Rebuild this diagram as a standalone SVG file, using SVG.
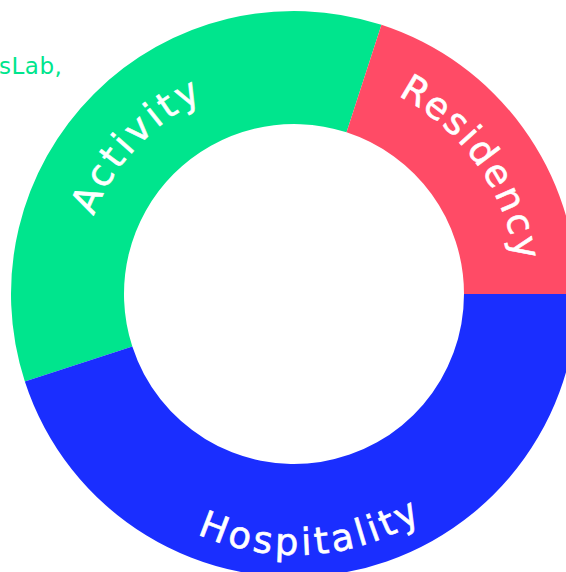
<svg xmlns="http://www.w3.org/2000/svg" width="566" height="572" viewBox="0 0 566 572">
  <style>
    .lbl { font-family: "DejaVu Sans", "Liberation Sans", sans-serif; font-size: 37px; font-weight: 400; fill: #ffffff; stroke: #ffffff; stroke-width: 0.6px; }
    .note { font-family: "DejaVu Sans", "Liberation Sans", sans-serif; font-size: 23px; font-weight: 400; fill: #00E58D; letter-spacing: 0.5px; }
  </style>
  <defs>
    <path id="pRes" d="M 294,70 A 224 224 0 0 1 507.04,363.22"/>
    <path id="pHos" d="M 55.77,330.45 A 240 240 0 0 0 534.94,299.47"/>
    <path id="pAct" d="M 79,294 A 215 215 0 0 1 294,79"/>
  </defs>
  <rect width="566" height="572" fill="#ffffff"/>
  <text class="note" x="-1" y="74">sLab,</text>
  <g id="activity">
    <path d="M 24.85,381.45 A 283 283 0 0 1 381.45,24.85 L 346.53,132.32 A 170 170 0 0 0 132.32,346.53 Z" fill="#00E58D"/>
    <text class="lbl"><textPath href="#pAct" startOffset="79.8" textLength="163" lengthAdjust="spacing">Activity</textPath></text>
  </g>
  <g id="residency">
    <path d="M 381.45,24.85 A 283 283 0 0 1 577,294 L 464,294 A 170 170 0 0 0 346.53,132.32 Z" fill="#FF4B66"/>
    <text class="lbl"><textPath href="#pRes" startOffset="50.5%" text-anchor="middle" textLength="210" lengthAdjust="spacing">Residency</textPath></text>
  </g>
  <g id="hospitality">
    <path d="M 577,294 A 283 283 0 0 1 24.85,381.45 L 132.32,346.53 A 170 170 0 0 0 464,294 Z" fill="#1A2EFF"/>
    <text class="lbl"><textPath href="#pHos" startOffset="50%" text-anchor="middle" textLength="234" lengthAdjust="spacing">Hospitality</textPath></text>
  </g>
  <g id="connectors"/>
</svg>
